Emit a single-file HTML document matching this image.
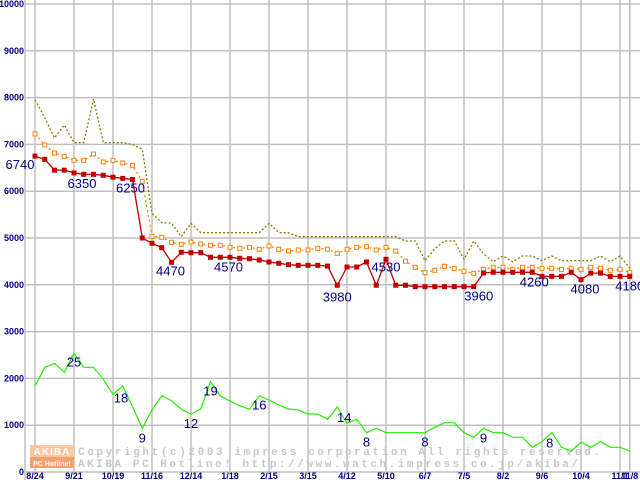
<!DOCTYPE html>
<html><head><meta charset="utf-8"><style>
html,body{margin:0;padding:0;background:#fff;}
svg{display:block;font-family:"Liberation Sans",sans-serif;}
</style></head><body>
<svg id="chart" width="640" height="480" viewBox="0 0 640 480" xmlns="http://www.w3.org/2000/svg">
<g id="grid"></g>
<g id="yticks"></g>
<g id="xticks"></g>
<g id="watermark">
  <rect x="30" y="445" width="44" height="12" fill="#f8c8a0"/>
  <rect x="30" y="457" width="44" height="11" fill="#f4a070"/>
  <text x="52" y="455" font-size="10" font-weight="bold" fill="#fff" text-anchor="middle" letter-spacing="1">AKIBA</text>
  <text x="52" y="466" font-size="7" font-weight="bold" fill="#fff" text-anchor="middle">PC Hotline!</text>
  <text x="78" y="455" font-family="Liberation Mono, monospace" font-size="11" font-weight="bold" fill="#c8c8c8" textLength="522" lengthAdjust="spacing">Copyright(c)2003 impress corporation All rights reserved.</text>
  <text x="78" y="467" font-family="Liberation Mono, monospace" font-size="11" font-weight="bold" fill="#c8c8c8" textLength="500" lengthAdjust="spacing">AKIBA PC Hotline!  http://www.watch.impress.co.jp/akiba/</text>
</g>
<g id="series"></g>
<g id="labels"></g>
</svg>
<script>
const xLabels = ["8/24","9/21","10/19","11/16","12/14","1/18","2/15","3/15","4/12","5/10","6/7","7/5","8/2","9/6","10/4","11/1","11/8"];
const xLabelIdx = [0,4,8,12,16,20,24,28,32,36,40,44,48,52,56,60,61];
const yTicks = [0,1000,2000,3000,4000,5000,6000,7000,8000,9000,10000];
const maxPrice = [7950,7565,7137,7415,7036,7036,7970,7036,7036,7036,7000,6895,5528,5327,5320,5028,5313,5114,5114,5114,5114,5114,5114,5114,5313,5114,5114,5028,5028,5028,5028,5028,5028,5028,5028,5028,5028,5028,4936,4936,4515,4771,4936,4936,4545,4936,4658,4494,4615,4494,4615,4615,4515,4615,4515,4515,4515,4515,4615,4494,4615,4352];
const avgPrice = [7222,6987,6816,6745,6660,6660,6795,6624,6660,6603,6553,6211,5036,5015,4908,4865,4915,4872,4844,4844,4801,4780,4801,4758,4829,4758,4722,4744,4744,4780,4760,4673,4758,4801,4815,4744,4801,4720,4505,4374,4259,4310,4395,4352,4288,4245,4331,4374,4374,4331,4374,4374,4352,4352,4331,4352,4331,4374,4352,4310,4331,4267];
const minPrice = [6750,6680,6450,6450,6390,6360,6360,6340,6300,6275,6250,5000,4887,4793,4480,4695,4686,4686,4588,4588,4588,4566,4558,4530,4487,4460,4430,4416,4416,4416,4400,3990,4380,4380,4487,3990,4545,3990,3990,3960,3960,3960,3960,3960,3960,3960,4252,4267,4267,4267,4267,4267,4180,4180,4180,4267,4110,4250,4250,4180,4180,4180];
const shopCount = [1838,2237,2322,2130,2536,2237,2237,1981,1660,1838,1396,934,1325,1630,1524,1339,1239,1346,1930,1624,1517,1417,1339,1630,1538,1431,1346,1325,1239,1239,1126,1389,1040,1126,840,934,840,840,840,840,840,960,1054,1054,840,741,934,840,840,741,741,527,647,840,527,449,634,527,647,527,527,449];
const priceLabelIdx = [0,4,10,14,22,31,36,45,51,56,61];
const priceLabelText = ["6740","6350","6250","4470","4570","3980","4530","3960","4260","4080","4180"];
const countLabelIdx = [4,8,11,16,18,23,31,34,40,46,53];
const countLabelText = ["25","18","9","12","19","16","14","8","8","9","8"];

const NS="http://www.w3.org/2000/svg";
const X0=35, DX=9.75, Y0=472, KY=0.0468;
function xs(i){return X0+DX*i;}
function ys(v){return Y0-KY*v;}
function mk(tag,attrs,parent,text){const e=document.createElementNS(NS,tag);for(const k in attrs)e.setAttribute(k,attrs[k]);if(text!==undefined)e.textContent=text;parent.appendChild(e);return e;}

const grid=document.getElementById('grid');
const yt=document.getElementById('yticks');
const xt=document.getElementById('xticks');
for(const v of yTicks){
  const l=mk('line',{x1:25,x2:640,y1:ys(v),y2:ys(v),stroke:'#c0c0c0','stroke-width':1.5},grid);
  
  
  const t=mk('text',{x:24,y:ys(v)+3,'font-size':9,'font-weight':'bold',fill:'#000080','text-anchor':'end'},yt,String(v));
  
  
}
const ax=mk('line',{x1:25,x2:25,y1:0,y2:480,stroke:'#c0c0c0','stroke-width':1.5},grid);


xLabelIdx.forEach((idx,k)=>{
  const l=mk('line',{x1:xs(idx),x2:xs(idx),y1:0,y2:472,stroke:'#c0c0c0','stroke-width':1.5},grid);
  
  
  const t=mk('text',{x:xs(idx),y:479,'font-size':9,'font-weight':'bold',fill:'#000080','text-anchor':'middle'},xt,xLabels[k]);
  
  
});

const ser=document.getElementById('series');
function pts(arr){return arr.map((v,i)=>xs(i).toFixed(1)+','+ys(v).toFixed(1)).join(' ');}
const gMax=mk('polyline',{points:pts(maxPrice),fill:'none',stroke:'#808000','stroke-width':1.3,'stroke-dasharray':'2,2'},ser);


const gAvg=mk('polyline',{points:pts(avgPrice),fill:'none',stroke:'#ff8000','stroke-width':1.3,'stroke-dasharray':'2,3'},ser);


avgPrice.forEach((v,i)=>{
  const r=mk('rect',{x:xs(i)-2,y:ys(v)-2,width:4,height:4,fill:'#fff',stroke:'#ff8000','stroke-width':1},ser);
  
  
});
const gMin=mk('polyline',{points:pts(minPrice),fill:'none',stroke:'#c00000','stroke-width':1.3},ser);


minPrice.forEach((v,i)=>{
  const r=mk('rect',{x:xs(i)-2.5,y:ys(v)-2.5,width:5,height:5,fill:'#c00000'},ser);
  
  
});
const gCnt=mk('polyline',{points:pts(shopCount),fill:'none',stroke:'#22ee00','stroke-width':1.2},ser);



const lab=document.getElementById('labels');
const pOff=[[-15,13],[8,15],[-2,13],[-1,13],[-21,13],[0,16],[0,12],[5,14],[2,14],[4,14],[0,14]];
priceLabelIdx.forEach((idx,k)=>{
  const t=mk('text',{x:xs(idx)+pOff[k][0],y:ys(minPrice[idx])+pOff[k][1],'font-size':13,fill:'#000080','text-anchor':'middle'},lab,priceLabelText[k]);
  
  
});
const cOff=[[0,13],[8,8],[0,14],[0,14],[0,14],[0,14],[7,15],[0,14],[0,14],[0,14],[-2,15]];
countLabelIdx.forEach((idx,k)=>{
  const t=mk('text',{x:xs(idx)+cOff[k][0],y:ys(shopCount[idx])+cOff[k][1],'font-size':13,fill:'#000080','text-anchor':'middle'},lab,countLabelText[k]);
  
  
});
</script>
</body></html>
